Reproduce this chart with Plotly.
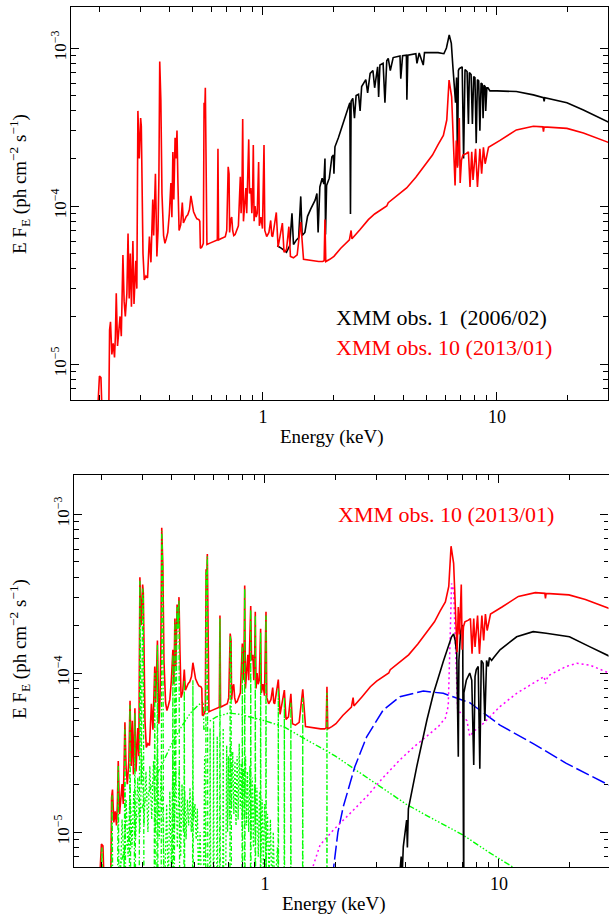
import plotly.graph_objects as go

# ---------------------------------------------------------------------------
# Spectral data (energy in keV, E*F_E in ph cm^-2 s^-1)
# ---------------------------------------------------------------------------

# XMM obs. 10 (2013/01): unfolded spectrum
obs10_points = [
    (0.195, 4.0e-6), (0.200, 8.4e-6), (0.203, 8.2e-6), (0.206, 4.0e-6),
    (0.219, 4.0e-6), (0.221, 1.64e-5), (0.223, 1.85e-5), (0.226, 1.15e-5),
    (0.229, 1.35e-5), (0.232, 1.1e-5), (0.234, 1.5e-5), (0.236, 2.8e-5),
    (0.239, 1.3e-5), (0.242, 1.6e-5), (0.245, 2.0e-5), (0.248, 1.5e-5),
    (0.250, 2.4e-5), (0.252, 4.9e-5), (0.255, 2.5e-5), (0.258, 2.0e-5),
    (0.262, 2.8e-5), (0.265, 6.7e-5), (0.268, 2.6e-5), (0.271, 5.0e-5),
    (0.274, 2.3e-5), (0.278, 6.0e-5), (0.281, 2.4e-5), (0.286, 4.5e-5),
    (0.289, 3.0e-5), (0.292, 4.0e-4), (0.296, 2.0e-4), (0.300, 3.6e-4),
    (0.302, 3.2e-4), (0.304, 1.1e-4), (0.307, 5.0e-5), (0.311, 3.4e-5),
    (0.316, 3.6e-5), (0.321, 3.5e-5), (0.327, 6.4e-5), (0.332, 4.4e-5),
    (0.338, 1.1e-4), (0.341, 6.5e-5), (0.347, 1.6e-4), (0.352, 4.8e-5),
    (0.356, 7.0e-5), (0.359, 1.5e-4), (0.362, 8.2e-4), (0.366, 4.7e-4),
    (0.370, 1.2e-4), (0.376, 6.5e-5), (0.381, 5.8e-5), (0.386, 6.2e-5),
    (0.392, 6.8e-5), (0.398, 9.0e-5), (0.404, 1.4e-4), (0.408, 8.5e-5),
    (0.412, 2.2e-4), (0.416, 1.1e-4), (0.421, 2.7e-4), (0.425, 2.0e-4),
    (0.429, 3.0e-4), (0.433, 1.4e-4), (0.438, 7.0e-5), (0.445, 7.6e-5),
    (0.452, 1.05e-4), (0.457, 7.8e-5), (0.463, 8.2e-5), (0.470, 8.6e-5),
    (0.477, 8.8e-5), (0.485, 9.5e-5), (0.492, 1.16e-4), (0.498, 1.0e-4),
    (0.505, 9.2e-5), (0.515, 8.6e-5), (0.522, 8.3e-5), (0.532, 8.2e-5),
    (0.537, 8.0e-5), (0.540, 5.4e-5), (0.548, 5.5e-5), (0.556, 5.8e-5),
    (0.560, 4.5e-4), (0.563, 3.6e-4), (0.567, 5.6e-4), (0.571, 1.5e-4),
    (0.576, 5.7e-5), (0.590, 5.8e-5), (0.605, 5.9e-5), (0.620, 6.0e-5),
    (0.638, 6.1e-5), (0.642, 2.3e-4), (0.646, 6.1e-5), (0.660, 6.2e-5),
    (0.675, 6.3e-5), (0.690, 6.4e-5), (0.700, 7.0e-5), (0.710, 1.77e-4),
    (0.716, 1.6e-4), (0.720, 6.8e-5), (0.728, 8.2e-5), (0.735, 8.5e-5),
    (0.742, 7.0e-5), (0.750, 6.5e-5), (0.760, 6.6e-5), (0.770, 7.0e-5),
    (0.785, 7.5e-5), (0.800, 1.53e-4), (0.806, 9.0e-5), (0.813, 1.2e-4),
    (0.819, 3.55e-4), (0.825, 8.0e-5), (0.835, 1.1e-4), (0.845, 1.3e-4),
    (0.852, 9.0e-5), (0.862, 1.6e-4), (0.869, 2.64e-4), (0.876, 1.2e-4),
    (0.888, 1.3e-4), (0.896, 9.0e-5), (0.903, 1.2e-4), (0.909, 2.43e-4),
    (0.916, 8.0e-5), (0.925, 1.0e-4), (0.935, 8.5e-5), (0.945, 9.0e-5),
    (0.958, 1.9e-4), (0.965, 7.5e-5), (0.980, 8.5e-5), (0.995, 7.2e-5),
    (1.010, 2.43e-4), (1.018, 7.0e-5), (1.037, 6.4e-5), (1.060, 6.8e-5),
    (1.079, 8.1e-5), (1.090, 6.5e-5), (1.100, 6.4e-5), (1.140, 9.1e-5),
    (1.160, 5.5e-5), (1.210, 7.8e-5), (1.230, 5.1e-5), (1.260, 5.3e-5),
    (1.290, 7.4e-5), (1.310, 4.8e-5), (1.350, 4.7e-5), (1.400, 4.9e-5),
    (1.450, 7.9e-5), (1.490, 4.6e-5), (1.550, 4.55e-5), (1.600, 4.5e-5),
    (1.670, 4.45e-5), (1.730, 4.45e-5), (1.800, 4.45e-5), (1.825, 4.5e-5),
    (1.840, 8.2e-5), (1.855, 4.45e-5), (1.930, 4.6e-5), (2.010, 4.8e-5),
    (2.150, 5.4e-5), (2.340, 6.1e-5), (2.380, 7.0e-5), (2.400, 6.2e-5),
    (2.600, 7.1e-5), (2.820, 8.2e-5), (3.000, 8.9e-5), (3.380, 1.0e-4),
    (3.430, 1.05e-4), (4.000, 1.26e-4), (4.110, 1.3e-4), (4.500, 1.52e-4),
    (4.840, 1.77e-4), (5.300, 2.1e-4), (5.600, 2.45e-4), (5.900, 2.8e-4),
    (6.100, 3.5e-4), (6.240, 6.27e-4), (6.400, 4.9e-4), (6.550, 2.26e-4),
    (6.620, 1.35e-4), (6.700, 2.6e-4), (6.780, 1.75e-4), (6.900, 3.6e-4),
    (6.960, 1.4e-4), (7.050, 1.95e-4), (7.150, 2.1e-4), (7.400, 2.15e-4),
    (7.550, 2.2e-4), (7.670, 1.32e-4), (7.800, 2.2e-4), (7.900, 1.46e-4),
    (8.100, 2.3e-4), (8.250, 1.32e-4), (8.450, 2.3e-4), (8.600, 1.6e-4),
    (8.750, 2.35e-4), (8.900, 1.85e-4), (9.200, 2.35e-4), (10.30, 2.6e-4),
    (12.10, 3.03e-4), (14.30, 3.2e-4), (15.70, 3.17e-4), (15.80, 2.95e-4),
    (15.90, 3.17e-4), (19.90, 3.1e-4), (23.40, 2.9e-4), (30.50, 2.5e-4),
]

# XMM obs. 1 (2006/02): unfolded spectrum
obs1_points = [
    (1.15, 5.6e-5), (1.20, 5.4e-5), (1.26, 5.1e-5), (1.30, 5.6e-5),
    (1.33, 9.0e-5), (1.35, 5.7e-5), (1.39, 6.1e-5), (1.42, 6.3e-5),
    (1.45, 1.15e-4), (1.47, 6.5e-5), (1.51, 6.8e-5), (1.55, 8.6e-5),
    (1.60, 9.6e-5), (1.67, 1.09e-4), (1.70, 1.2e-4), (1.72, 6.8e-5),
    (1.75, 1.32e-4), (1.79, 1.5e-4), (1.82, 1.38e-4), (1.84, 2.0e-4),
    (1.85, 6.6e-5), (1.87, 1.35e-4), (1.92, 1.5e-4), (1.97, 2.05e-4),
    (2.00, 2.1e-4), (2.01, 1.6e-4), (2.03, 2.37e-4), (2.10, 2.7e-4),
    (2.20, 3.34e-4), (2.28, 3.9e-4), (2.35, 4.5e-4), (2.365, 8.9e-5),
    (2.38, 4.6e-4), (2.42, 4.8e-4), (2.46, 3.6e-4), (2.50, 5.0e-4),
    (2.56, 5.1e-4), (2.60, 4.0e-4), (2.64, 5.7e-4), (2.75, 6.3e-4),
    (2.80, 5.2e-4), (2.87, 6.9e-4), (2.95, 7.2e-4), (3.00, 5.6e-4),
    (3.09, 7.6e-4), (3.12, 4.9e-4), (3.16, 7.8e-4), (3.26, 8.0e-4),
    (3.32, 4.5e-4), (3.38, 8.3e-4), (3.43, 8.6e-4), (3.50, 7.2e-4),
    (3.60, 8.7e-4), (3.85, 8.9e-4), (3.88, 6.4e-4), (3.95, 8.95e-4),
    (4.10, 9.0e-4), (4.12, 4.7e-4), (4.16, 9.0e-4), (4.50, 9.2e-4),
    (4.55, 8.0e-4), (4.65, 9.3e-4), (4.84, 7.8e-4), (4.90, 9.35e-4),
    (5.30, 9.4e-4), (5.60, 9.35e-4), (5.93, 9.2e-4), (6.08, 1.0e-3),
    (6.25, 1.21e-3), (6.38, 1.07e-3), (6.48, 7.6e-4), (6.58, 5.5e-4),
    (6.65, 4.5e-4), (6.72, 6.5e-4), (6.78, 1.8e-4), (6.84, 7.2e-4),
    (6.90, 7.4e-4), (7.00, 7.5e-4), (7.10, 7.6e-4), (7.20, 2.0e-4),
    (7.30, 7.3e-4), (7.45, 7.1e-4), (7.55, 3.3e-4), (7.62, 7.0e-4),
    (7.75, 6.8e-4), (7.85, 3.3e-4), (7.95, 6.6e-4), (8.05, 6.5e-4),
    (8.15, 2.5e-4), (8.25, 6.3e-4), (8.35, 6.2e-4), (8.45, 3.0e-4),
    (8.55, 6.0e-4), (8.65, 5.9e-4), (8.72, 3.6e-4), (8.80, 5.8e-4),
    (8.90, 5.7e-4), (8.95, 4.0e-4), (9.05, 5.6e-4), (9.15, 5.6e-4),
    (9.33, 5.35e-4), (10.0, 5.35e-4), (12.1, 5.3e-4), (14.3, 5.05e-4),
    (15.8, 4.85e-4), (15.9, 4.6e-4), (16.0, 4.85e-4), (19.9, 4.5e-4),
    (23.4, 4.05e-4), (30.5, 3.35e-4),
]

# Model components for obs. 10
# photoionised emission: line spectrum
green_lines_points = [
    (0.199, 3e-6), (0.201, 8.0e-6), (0.203, 3e-6),
    (0.220, 3e-6), (0.222, 1.7e-5), (0.224, 3e-6),
    (0.234, 3e-6), (0.236, 2.6e-5), (0.238, 3e-6),
    (0.250, 3e-6), (0.252, 4.6e-5), (0.254, 3e-6),
    (0.263, 3e-6), (0.265, 6.3e-5), (0.267, 3e-6),
    (0.276, 3e-6), (0.278, 5.6e-5), (0.280, 3e-6),
    (0.290, 3e-6), (0.292, 3.8e-4), (0.296, 2.0e-5), (0.300, 3.4e-4),
    (0.302, 3.0e-4), (0.304, 3e-6),
    (0.336, 3e-6), (0.338, 1.0e-4), (0.340, 3e-6),
    (0.345, 3e-6), (0.347, 1.5e-4), (0.349, 3e-6),
    (0.360, 3e-6), (0.362, 7.8e-4), (0.366, 4.4e-4), (0.369, 3e-6),
    (0.402, 3e-6), (0.404, 1.3e-4), (0.406, 3e-6),
    (0.410, 3e-6), (0.412, 2.1e-4), (0.415, 2e-5), (0.421, 2.6e-4),
    (0.425, 1.9e-4), (0.429, 2.85e-4), (0.432, 3e-6),
    (0.450, 3e-6), (0.452, 9e-5), (0.454, 3e-6),
    (0.490, 3e-6), (0.492, 9e-5), (0.494, 3e-6),
    (0.558, 3e-6), (0.560, 4.3e-4), (0.563, 3.4e-4), (0.567, 5.4e-4),
    (0.570, 3e-6),
    (0.640, 3e-6), (0.642, 2.2e-4), (0.644, 3e-6),
    (0.708, 3e-6), (0.710, 1.7e-4), (0.716, 1.5e-4), (0.719, 3e-6),
    (0.798, 3e-6), (0.800, 1.45e-4), (0.803, 3e-6),
    (0.817, 3e-6), (0.819, 3.4e-4), (0.822, 3e-6),
    (0.867, 3e-6), (0.869, 2.5e-4), (0.872, 3e-6),
    (0.907, 3e-6), (0.909, 2.3e-4), (0.912, 3e-6),
    (0.956, 3e-6), (0.958, 1.8e-4), (0.961, 3e-6),
    (1.007, 3e-6), (1.010, 2.3e-4), (1.013, 3e-6),
    (1.137, 3e-6), (1.140, 8e-5), (1.143, 3e-6),
    (1.207, 3e-6), (1.210, 7e-5), (1.213, 3e-6),
    (1.287, 3e-6), (1.290, 6.5e-5), (1.293, 3e-6),
    (1.447, 3e-6), (1.450, 7e-5), (1.453, 3e-6),
    (1.837, 3e-6), (1.840, 7.5e-5), (1.843, 3e-6),
]

# photoionised emission: weaker line blends
green_blend_points = [
    (0.240, 4e-6), (0.245, 1.2e-5), (0.250, 6e-6), (0.255, 1.6e-5),
    (0.260, 7e-6), (0.265, 2.0e-5), (0.270, 8e-6), (0.275, 1.8e-5),
    (0.280, 9e-6), (0.286, 2.2e-5), (0.292, 1.0e-5), (0.298, 3.0e-5),
    (0.304, 1.1e-5), (0.310, 2.4e-5), (0.316, 1.0e-5), (0.322, 2.6e-5),
    (0.328, 1.2e-5), (0.334, 2.8e-5), (0.340, 1.0e-5), (0.347, 3.2e-5),
    (0.353, 9e-6), (0.360, 2.6e-5), (0.366, 1.3e-5), (0.372, 4.0e-6),
    (0.380, 1.5e-5), (0.386, 4e-6), (0.392, 1.8e-5), (0.398, 6e-6),
    (0.404, 3.0e-5), (0.410, 1.0e-5), (0.416, 2.5e-5), (0.422, 8e-6),
    (0.430, 2.6e-5), (0.436, 7e-6), (0.442, 2.0e-5), (0.448, 1.0e-5),
    (0.454, 1.8e-5), (0.460, 9e-6), (0.466, 1.6e-5), (0.472, 1.1e-5),
    (0.478, 1.9e-5), (0.484, 1.0e-5), (0.490, 1.7e-5), (0.496, 1.2e-5),
    (0.502, 1.5e-5), (0.508, 9e-6), (0.514, 1.4e-5), (0.520, 5e-6),
    (0.528, 1.0e-5), (0.536, 4e-6), (0.545, 4e-6), (0.552, 3.0e-5),
    (0.556, 4e-6), (0.580, 4e-6), (0.583, 4.5e-5), (0.586, 4e-6),
    (0.600, 4e-6), (0.603, 5e-5), (0.606, 4e-6), (0.622, 4e-6),
    (0.625, 4.0e-5), (0.628, 4e-6), (0.660, 4e-6), (0.663, 4.5e-5),
    (0.666, 4e-6), (0.680, 6e-6), (0.686, 3.5e-5), (0.692, 1.0e-5),
    (0.698, 3.0e-5), (0.704, 1.2e-5), (0.712, 3.5e-5), (0.720, 1.4e-5),
    (0.728, 3.2e-5), (0.736, 1.3e-5), (0.744, 2.8e-5), (0.752, 1.1e-5),
    (0.760, 3.0e-5), (0.768, 1.2e-5), (0.776, 3.6e-5), (0.784, 1.4e-5),
    (0.792, 2.7e-5), (0.800, 1.0e-5), (0.808, 2.5e-5), (0.816, 1.2e-5),
    (0.826, 3.0e-5), (0.834, 1.1e-5), (0.842, 2.4e-5), (0.852, 1.0e-5),
    (0.862, 2.6e-5), (0.872, 9e-6), (0.882, 2.2e-5), (0.892, 8e-6),
    (0.902, 2.0e-5), (0.912, 9e-6), (0.924, 1.9e-5), (0.936, 7e-6),
    (0.948, 1.8e-5), (0.960, 7e-6), (0.972, 1.6e-5), (0.984, 6e-6),
    (0.996, 1.5e-5), (1.010, 6e-6), (1.025, 1.3e-5), (1.040, 5e-6),
    (1.055, 1.2e-5), (1.070, 4e-6), (1.085, 1.0e-5), (1.100, 4e-6),
    (1.130, 8e-6), (1.160, 3e-6),
]

# photoionised emission: continuum
green_cont_points = [
    (0.22, 4e-6), (0.25, 7.5e-6), (0.28, 1.2e-5), (0.30, 1.45e-5),
    (0.33, 2.0e-5), (0.36, 2.6e-5), (0.40, 3.6e-5), (0.44, 4.6e-5),
    (0.48, 5.6e-5), (0.52, 6.3e-5), (0.545, 6.6e-5), (0.548, 4.4e-5),
    (0.57, 4.9e-5), (0.62, 5.3e-5), (0.70, 5.6e-5), (0.78, 5.5e-5),
    (0.90, 5.2e-5), (1.00, 5.0e-5), (1.20, 4.6e-5), (1.50, 3.8e-5),
    (2.00, 3.0e-5), (3.00, 2.0e-5), (4.00, 1.5e-5), (5.00, 1.25e-5),
    (7.00, 9.6e-6), (9.00, 7.5e-6), (11.5, 6.0e-6), (13.0, 5.2e-6),
]

# scattered power law
blue_points = [
    (1.90, 4e-6), (1.96, 6.05e-6), (2.05, 1.0e-5), (2.16, 1.44e-5),
    (2.42, 2.57e-5), (2.72, 3.97e-5), (3.20, 5.85e-5), (3.77, 7.1e-5),
    (4.75, 7.7e-5), (5.78, 7.45e-5), (7.50, 6.5e-5), (10.1, 4.7e-5),
    (14.0, 3.6e-5), (19.4, 2.7e-5), (29.5, 1.97e-5), (31.0, 1.9e-5),
]

# reflection
magenta_points = [
    (1.50, 4e-6), (1.60, 6.0e-6), (1.72, 8.3e-6), (1.96, 1.03e-5),
    (2.30, 1.3e-5), (2.72, 1.67e-5), (3.20, 2.2e-5), (3.77, 2.84e-5),
    (4.30, 3.4e-5), (4.90, 3.97e-5), (5.50, 4.6e-5), (5.90, 5.2e-5),
    (6.07, 6.2e-5), (6.18, 1.6e-4), (6.27, 3.66e-4), (6.40, 3.3e-4),
    (6.55, 1.2e-4), (6.65, 6.0e-5), (6.90, 5.5e-5), (7.30, 5.0e-5),
    (7.50, 4.0e-5), (7.80, 4.3e-5), (8.30, 4.6e-5), (8.85, 5.06e-5),
    (10.1, 6.15e-5), (11.9, 7.45e-5), (14.0, 8.6e-5), (15.6, 9.5e-5),
    (15.8, 8.6e-5), (16.2, 9.6e-5), (19.4, 1.1e-4), (21.5, 1.15e-4),
    (24.5, 1.12e-4), (30.5, 9.8e-5),
]

# absorbed transmitted power law
black_comp_points = [
    (3.70, 4e-6), (3.77, 5.8e-6), (3.82, 7e-6), (3.85, 5e-6),
    (3.90, 8.1e-6), (4.03, 1.19e-5), (4.06, 8e-6), (4.10, 1.4e-5),
    (4.17, 1.59e-5), (4.45, 2.57e-5), (4.92, 5.06e-5), (5.25, 7.45e-5),
    (5.78, 1.18e-4), (6.00, 1.4e-4), (6.27, 1.69e-4), (6.40, 1.76e-4),
    (6.50, 1.6e-4), (6.60, 1.33e-4), (6.66, 7e-5), (6.70, 2.97e-5),
    (6.74, 1.2e-4), (6.85, 1.8e-4), (6.95, 2.0e-4), (7.00, 1.95e-4),
    (7.02, 3.5e-5), (7.05, 3e-6), (7.07, 3e-6), (7.08, 7.5e-5),
    (7.25, 9.0e-5), (7.50, 1.0e-4), (7.65, 9e-5), (7.80, 2.64e-5),
    (7.90, 9.5e-5), (8.00, 1.05e-4), (8.15, 1.1e-4), (8.28, 2.5e-5),
    (8.40, 1.2e-4), (8.55, 1.15e-4), (8.70, 5.0e-5), (8.85, 1.2e-4),
    (9.00, 1.1e-4), (9.10, 1.25e-4), (9.30, 1.2e-4), (9.50, 1.25e-4),
    (10.1, 1.4e-4), (11.9, 1.69e-4), (14.0, 1.82e-4), (15.9, 1.78e-4),
    (20.0, 1.69e-4), (24.5, 1.46e-4), (30.5, 1.25e-4),
]

x_major = [1, 10]
x_major_text = ["1", "10"]
x_minor = [0.2, 0.3, 0.4, 0.5, 0.6, 0.7, 0.8, 0.9,
           2, 3, 4, 5, 6, 7, 8, 9, 20]
y_major = [1e-5, 1e-4, 1e-3]
y_major_text = ["10<sup>\u22125</sup>", "10<sup>\u22124</sup>", "10<sup>\u22123</sup>"]
y_minor = [6e-6, 7e-6, 8e-6, 9e-6,
           2e-5, 3e-5, 4e-5, 5e-5, 6e-5, 7e-5, 8e-5, 9e-5,
           2e-4, 3e-4, 4e-4, 5e-4, 6e-4, 7e-4, 8e-4, 9e-4]

# ---------------------------------------------------------------------------
W, H = 609, 914
FONT = "Liberation Serif"


def unzip(points):
    return [p[0] for p in points], [p[1] for p in points]


def px(x):
    return x / W


def py(y):
    return 1 - y / H


fig = go.Figure()


def add_line(points, color, xa, ya, dash="solid", width=1.5):
    e, f = unzip(points)
    fig.add_trace(go.Scatter(
        x=e, y=f, mode="lines", xaxis=xa, yaxis=ya,
        line=dict(color=color, width=width, dash=dash),
        showlegend=False, hoverinfo="skip",
    ))


# upper panel
add_line(obs1_points, "#000000", "x", "y", width=1.6)
add_line(obs10_points, "#ff0000", "x", "y", width=1.6)

# lower panel
add_line(green_blend_points, "#00ff00", "x2", "y2", dash="2px,2px", width=1.3)
add_line(green_cont_points, "#00ff00", "x2", "y2",
         dash="6px,2px,1.5px,2px,1.5px,2px,1.5px,2px", width=1.4)
add_line(blue_points, "#0000ff", "x2", "y2", dash="14px,4px", width=1.5)
add_line(magenta_points, "#ff00ff", "x2", "y2", dash="2px,3px", width=1.5)
add_line(black_comp_points, "#000000", "x2", "y2", width=1.6)
add_line(obs10_points, "#ff0000", "x2", "y2", width=1.6)
add_line(green_lines_points, "#00ff00", "x2", "y2", dash="5px,2px,1.5px,2px", width=1.3)


def xaxis_cfg(rng, dom, anchor):
    return dict(
        type="log", range=rng, domain=dom, anchor=anchor,
        showline=True, linecolor="black", linewidth=1.3, mirror="allticks",
        ticks="inside", ticklen=8, tickwidth=1.2, tickcolor="black",
        tickmode="array", tickvals=x_major, ticktext=x_major_text,
        minor=dict(tickmode="array", tickvals=x_minor, ticks="inside",
                   ticklen=4.5, tickwidth=1.2, tickcolor="black"),
        showgrid=False, zeroline=False,
        tickfont=dict(family=FONT, size=18, color="black"),
    )


def yaxis_cfg(rng, dom, anchor):
    return dict(
        type="log", range=rng, domain=dom, anchor=anchor,
        showline=True, linecolor="black", linewidth=1.3, mirror="allticks",
        ticks="inside", ticklen=8, tickwidth=1.2, tickcolor="black",
        tickmode="array", tickvals=y_major, ticktext=y_major_text,
        tickangle=-90, ticklabelstandoff=-3,
        minor=dict(tickmode="array", tickvals=y_minor, ticks="inside",
                   ticklen=4.5, tickwidth=1.2, tickcolor="black"),
        showgrid=False, zeroline=False,
        tickfont=dict(family=FONT, size=17, color="black"),
    )


fig.update_layout(
    width=W, height=H,
    margin=dict(l=0, r=0, t=0, b=0),
    paper_bgcolor="white", plot_bgcolor="white",
    xaxis=xaxis_cfg([-0.8205, 1.4744], [px(71), px(608)], "y"),
    yaxis=yaxis_cfg([-5.2278, -2.7405], [py(400), py(7)], "x"),
    xaxis2=xaxis_cfg([-0.8162, 1.468], [px(74), px(608.5)], "y2"),
    yaxis2=yaxis_cfg([-5.2201, -2.7547], [py(867), py(475)], "x2"),
)

ytitle = "E F<sub>E</sub> (ph cm<sup>\u22122</sup> s<sup>\u22121</sup>)"
annotations = [
    dict(text="Energy (keV)", x=px(332), y=py(437)),
    dict(text="Energy (keV)", x=px(334), y=py(904)),
    dict(text=ytitle, x=px(19), y=py(184), textangle=-90),
    dict(text=ytitle, x=px(19), y=py(649), textangle=-90),
]
for a in annotations:
    a.update(xref="paper", yref="paper", showarrow=False,
             xanchor="center", yanchor="middle",
             font=dict(family=FONT, size=19, color="black"))

legend_texts = [
    ("XMM obs. 1\u00a0\u00a0(2006/02)", "black", 334, 317),
    ("XMM obs. 10 (2013/01)", "#ff0000", 334, 347),
    ("XMM obs. 10 (2013/01)", "#ff0000", 336, 514),
]
for text, color, x0, y0 in legend_texts:
    annotations.append(dict(
        text=text, x=px(x0), y=py(y0), xref="paper", yref="paper",
        showarrow=False, xanchor="left", yanchor="middle",
        font=dict(family=FONT, size=22, color=color),
    ))

fig.update_layout(annotations=annotations)
fig.write_html("out.html")
